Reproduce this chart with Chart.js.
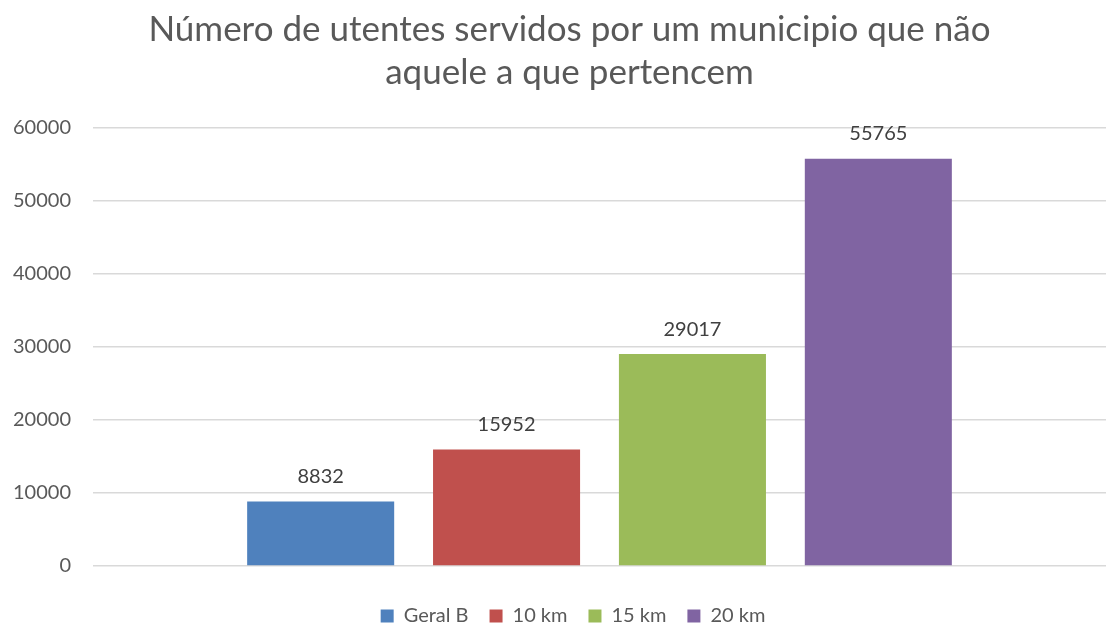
<!DOCTYPE html>
<html>
<head>
<meta charset="utf-8">
<script src="https://cdn.jsdelivr.net/npm/chart.js@4"></script>
<style>
  html, body { margin: 0; padding: 0; background: #fff; }
  #wrap { width: 1106px; height: 626px; }
</style>
</head>
<body>
<div id="wrap"><canvas id="chart"></canvas></div>
<script>
// Series names and values (one category, four series).
const SERIES_NAMES = ['Geral B', '10 km', '15 km', '20 km'];
const SERIES_VALUES = [8832, 15952, 29017, 55765];
const SERIES_COLORS = ['#4F81BD', '#C0504D', '#9BBB59', '#8064A2'];
const CATEGORIES = [''];
const TITLE_LINES = ['Número de utentes servidos por um municipio que não', 'aquele a que pertencem'];

const FONT = 'Lato, "Open Sans", sans-serif';

// Excel-style value labels above each bar.
const valueLabels = {
    id: 'valueLabels',
    afterDatasetsDraw(chart) {
        const { ctx } = chart;
        ctx.save();
        ctx.font = `20px ${FONT}`;
        ctx.fillStyle = '#404040';
        ctx.textAlign = 'center';
        ctx.textBaseline = 'middle';
        chart.data.datasets.forEach((ds, i) => {
            const meta = chart.getDatasetMeta(i);
            meta.data.forEach((bar, j) => {
                ctx.fillText(String(ds.data[j]), bar.x, bar.y - 25);
            });
        });
        ctx.restore();
    },
};

// The Excel title and legend sit a bit right of the canvas centre; nudge them.
const blockNudge = {
    id: 'blockNudge',
    afterLayout(chart) {
        if (chart.titleBlock) chart.titleBlock.left += 25;
        if (chart.legend) chart.legend.left += 32;
    },
};

new Chart(document.getElementById('chart'), {
    type: 'bar',
    data: {
        labels: CATEGORIES,
        datasets: SERIES_NAMES.map((name, i) => ({
            label: name,
            data: [SERIES_VALUES[i]],
            backgroundColor: SERIES_COLORS[i],
            categoryPercentage: 0.734,
            barPercentage: 0.791,
        })),
    },
    options: {
        responsive: true,
        maintainAspectRatio: false,
        animation: false,
        layout: { padding: { left: 8, right: 0, top: 4, bottom: -10 } },
        plugins: {
            title: {
                display: true,
                text: TITLE_LINES,
                color: '#595959',
                font: { family: FONT, size: 35, weight: 'normal', lineHeight: 1.24 },
                padding: { top: 4, bottom: 33 },
            },
            legend: {
                position: 'bottom',
                labels: {
                    color: '#595959',
                    font: { family: FONT, size: 20 },
                    boxWidth: 13,
                    boxHeight: 13,
                    padding: 21,
                },
            },
            tooltip: { enabled: false },
        },
        scales: {
            x: {
                afterFit: (scale) => { scale.height = 19; },
                grid: { display: false },
                border: { display: false },
                ticks: { display: false },
            },
            y: {
                min: 0,
                max: 60000,
                afterFit: (scale) => { scale.width = 85; },
                ticks: {
                    stepSize: 10000,
                    color: '#595959',
                    font: { family: FONT, size: 20 },
                    padding: 22,
                    callback: (v) => String(v),
                },
                grid: { color: '#D9D9D9', lineWidth: 1.5, drawTicks: false },
                border: { display: false },
            },
        },
    },
    plugins: [valueLabels, blockNudge],
});
</script>
</body>
</html>
